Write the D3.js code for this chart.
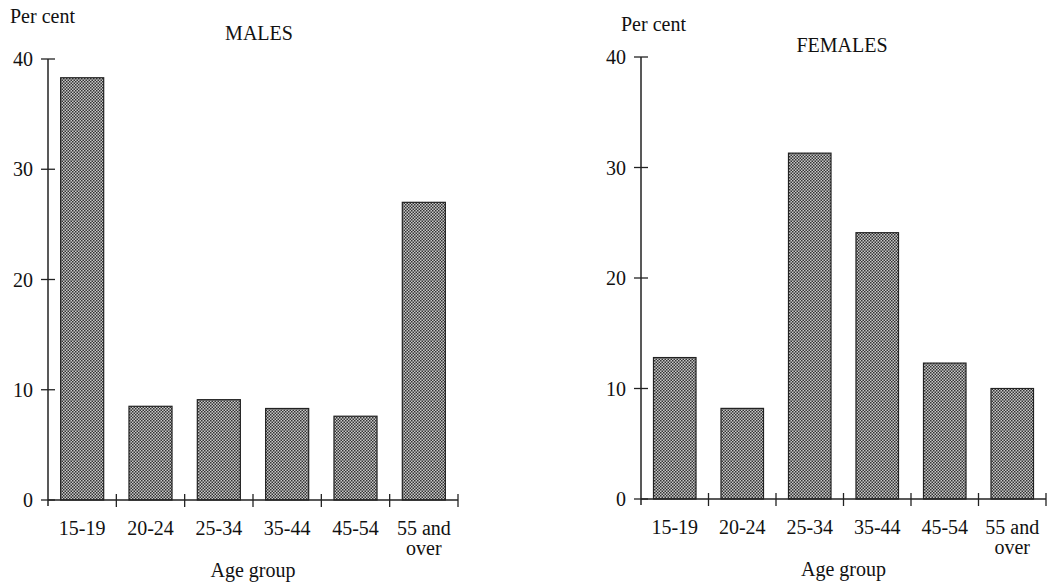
<!DOCTYPE html>
<html>
<head>
<meta charset="utf-8">
<script src="https://cdn.jsdelivr.net/npm/d3@7"></script>
<style>
  body { margin: 0; background: #fff; }
  svg text { font-family: "Liberation Serif", "Times New Roman", serif; fill: #111; }
</style>
</head>
<body>
<div id="plot"></div>
<script>
// data
const ageGroups = ["15-19", "20-24", "25-34", "35-44", "45-54", "55 and over"];
const malesPct = [38.3, 8.5, 9.1, 8.3, 7.6, 27.0];
const femalesPct = [12.8, 8.2, 31.3, 24.1, 12.3, 10.0];
const yTicks = [0, 10, 20, 30, 40];

const w = 1047;
const h = 585;
const fs = 20;

const svg = d3.select("div#plot")
      .append("svg")
      .attr("width", w)
      .attr("height", h);

svg.append("rect")
      .attr("width", w)
      .attr("height", h)
      .attr("fill", "white");

// dotted screen fill for the bars
const pat = svg.append("defs").append("pattern")
      .attr("id", "dots")
      .attr("patternUnits", "userSpaceOnUse")
      .attr("width", 3)
      .attr("height", 3);
pat.append("rect").attr("width", 3).attr("height", 3).attr("fill", "#c8c8c8");
pat.append("rect").attr("width", 1.5).attr("height", 1.5).attr("fill", "#333");
pat.append("rect").attr("x", 1.5).attr("y", 1.5).attr("width", 1.5).attr("height", 1.5).attr("fill", "#333");

function drawPanel(cfg) {
      const g = svg.append("g");

      const xScale = d3.scaleBand()
        .domain(ageGroups)
        .range([cfg.left, cfg.right])
        .paddingInner(0.37)
        .paddingOuter(0.185);

      const yScale = d3.scaleLinear()
        .domain([0, 40])
        .range([cfg.bottom, cfg.top]);

      // bars
      g.selectAll(".bar")
        .data(cfg.values)
        .enter()
        .append("rect")
        .attr("class", "bar")
        .attr("x", (d, i) => xScale(ageGroups[i]))
        .attr("y", d => yScale(d))
        .attr("width", xScale.bandwidth())
        .attr("height", d => cfg.bottom - yScale(d))
        .attr("fill", "url(#dots)")
        .attr("stroke", "#222")
        .attr("stroke-width", 1.2);

      // y axis line + crossing ticks
      g.append("line")
        .attr("x1", cfg.left).attr("x2", cfg.left)
        .attr("y1", yScale(40)).attr("y2", cfg.bottom + 6)
        .attr("stroke", "#222").attr("stroke-width", 1.5);
      g.selectAll(".ytick")
        .data(yTicks)
        .enter()
        .append("line")
        .attr("x1", cfg.left - 7).attr("x2", cfg.left + 7)
        .attr("y1", d => yScale(d)).attr("y2", d => yScale(d))
        .attr("stroke", "#222").attr("stroke-width", 1.3);
      g.selectAll(".ylab")
        .data(yTicks)
        .enter()
        .append("text")
        .attr("x", cfg.left - 15)
        .attr("y", d => yScale(d))
        .attr("dy", "0.35em")
        .attr("text-anchor", "end")
        .attr("font-size", fs)
        .text(d => d);

      // x axis line + band boundary ticks
      g.append("line")
        .attr("x1", cfg.left).attr("x2", cfg.right)
        .attr("y1", cfg.bottom).attr("y2", cfg.bottom)
        .attr("stroke", "#222").attr("stroke-width", 1.5);
      const bounds = d3.range(ageGroups.length + 1).map(i => cfg.left + i * (cfg.right - cfg.left) / ageGroups.length);
      g.selectAll(".xtick")
        .data(bounds.slice(1))
        .enter()
        .append("line")
        .attr("x1", d => d).attr("x2", d => d)
        .attr("y1", cfg.bottom - 6).attr("y2", cfg.bottom + 7)
        .attr("stroke", "#222").attr("stroke-width", 1.3);

      // category labels
      g.selectAll(".xlab")
        .data(ageGroups)
        .enter()
        .append("text")
        .attr("x", d => xScale(d) + xScale.bandwidth() / 2)
        .attr("y", cfg.bottom + 35)
        .attr("text-anchor", "middle")
        .attr("font-size", fs)
        .each(function (d) {
          const parts = d === "55 and over" ? ["55 and", "over"] : [d];
          parts.forEach((p, k) => {
            d3.select(this).append("tspan")
              .attr("x", xScale(d) + xScale.bandwidth() / 2)
              .attr("dy", k === 0 ? 0 : 20)
              .text(p);
          });
        });

      g.append("text")
        .attr("x", cfg.perX).attr("y", cfg.perY)
        .attr("font-size", fs)
        .text("Per cent");

      g.append("text")
        .attr("x", cfg.titleX).attr("y", cfg.titleY)
        .attr("text-anchor", "middle")
        .attr("font-size", fs)
        .text(cfg.title);

      g.append("text")
        .attr("x", (cfg.left + cfg.right) / 2).attr("y", cfg.bottom + 77)
        .attr("text-anchor", "middle")
        .attr("font-size", fs)
        .text("Age group");
}

drawPanel({values: malesPct, title: "MALES", left: 48, right: 458, top: 59, bottom: 500,
      perX: 10, perY: 23, titleX: 259, titleY: 40});
drawPanel({values: femalesPct, title: "FEMALES", left: 641, right: 1046, top: 57, bottom: 499,
      perX: 621, perY: 31, titleX: 842, titleY: 52});
</script>
</body>
</html>
